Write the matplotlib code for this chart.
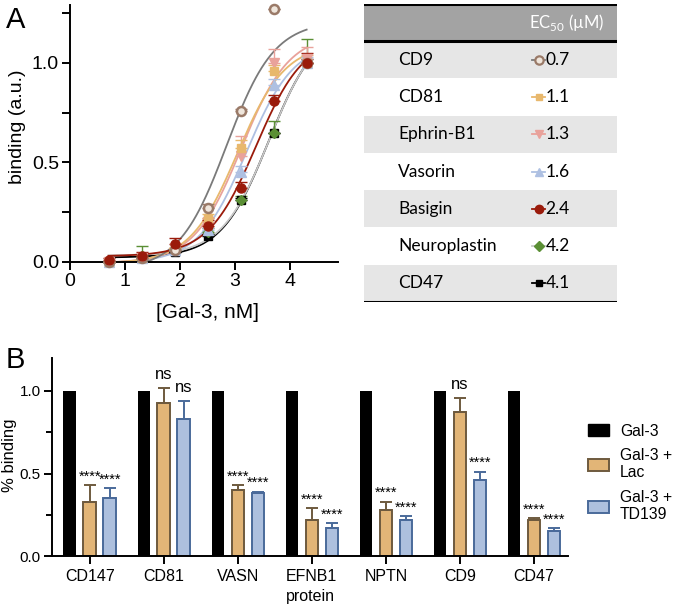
import numpy as np
import matplotlib
matplotlib.use("Agg")
import matplotlib.pyplot as plt
from matplotlib.patches import Rectangle, Patch
from matplotlib.ticker import MultipleLocator, FormatStrFormatter

plt.rcParams['font.family'] = ['Liberation Sans', 'DejaVu Sans']
plt.rcParams['mathtext.fontset'] = 'custom'
plt.rcParams['mathtext.rm'] = 'Lato'

# panel A: binding curves (x is log10 of [Gal-3] in nM)
log_conc = [0.7, 1.3, 1.9, 2.5, 3.1, 3.7, 4.3]
proteins = ['CD9', 'CD81', 'Ephrin-B1', 'Vasorin', 'Basigin', 'Neuroplastin', 'CD47']
ec50 = [0.7, 1.1, 1.3, 1.6, 2.4, 4.2, 4.1]  # uM
cd9 = [0.00, 0.02, 0.06, 0.27, 0.76, 1.27, 1.00]
cd81 = [0.00, 0.02, 0.07, 0.22, 0.57, 0.96, 1.00]
efnb1 = [0.00, 0.02, 0.07, 0.20, 0.53, 1.00, 1.02]
vasorin = [0.00, 0.02, 0.06, 0.16, 0.45, 0.89, 1.00]
basigin = [0.01, 0.03, 0.09, 0.18, 0.37, 0.81, 1.00]
nptn = [0.00, 0.03, 0.06, 0.15, 0.31, 0.65, 1.00]
cd47 = [0.00, 0.02, 0.05, 0.13, 0.31, 0.65, 1.00]
cd9_err = [0, 0, 0, 0.02, 0.01, 0, 0]
cd81_err = [0, 0, 0, 0.02, 0.04, 0.03, 0.04]
efnb1_err = [0, 0, 0, 0.02, 0.10, 0.07, 0.06]
vasorin_err = [0, 0, 0, 0.01, 0.03, 0.03, 0.03]
basigin_err = [0.01, 0.02, 0.03, 0.03, 0.03, 0.03, 0.05]
nptn_err = [0, 0.05, 0.01, 0.02, 0.02, 0.06, 0.12]
cd47_err = [0, 0, 0, 0.01, 0.01, 0, 0.02]

# panel B: inhibition bars
categories = ['CD147', 'CD81', 'VASN', 'EFNB1', 'NPTN', 'CD9', 'CD47']
gal3 = [1, 1, 1, 1, 1, 1, 1]
lac = [0.33, 0.93, 0.40, 0.22, 0.28, 0.87, 0.22]
lac_err = [0.10, 0.09, 0.03, 0.07, 0.05, 0.09, 0.01]
td139 = [0.35, 0.83, 0.38, 0.17, 0.22, 0.46, 0.15]
td139_err = [0.06, 0.11, 0.01, 0.03, 0.02, 0.05, 0.02]
lac_sig = ['****', 'ns', '****', '****', '****', 'ns', '****']
td139_sig = ['****', 'ns', '****', '****', '****', '****', '****']


def fit_curve(x, y, mid):
    # log(agonist) vs response, standard slope: least squares for bottom/top
    x = np.asarray(x, float)
    y = np.asarray(y, float)
    v = 1 / (1 + 10 ** (mid - x))
    A = np.column_stack([1 - v, v])
    (bot, top), *_ = np.linalg.lstsq(A, y, rcond=None)
    return bot, top


# values, err, EC50 row, marker, face, edge, curve colour (drawing order)
series = [
    (cd47, cd47_err, 6, 's', 'black', 'black', 'black'),
    (nptn, nptn_err, 5, 'D', '#5b8f35', '#5b8f35', '#c8c8c8'),
    (vasorin, vasorin_err, 3, '^', '#aec0e2', '#aec0e2', '#aec0e2'),
    (efnb1, efnb1_err, 2, 'v', '#e9a29b', '#e9a29b', '#e9a29b'),
    (cd81, cd81_err, 1, 's', '#e8b86d', '#e8b86d', '#e8b86d'),
    (cd9, cd9_err, 0, 'o', '#efe6dc', '#9a7a68', '#7a7a7a'),
    (basigin, basigin_err, 4, 'o', '#9a1b0b', '#9a1b0b', '#9a1b0b'),
]

fig = plt.figure(figsize=(6.77, 6.06), dpi=100)

axA = fig.add_axes([70 / 677, 1 - 262 / 606, 268 / 677, 257 / 606])
xs = np.linspace(min(log_conc), max(log_conc), 200)
for vals, err, row, mk, fc, ec, lc in series:
    mid = np.log10(ec50[row] * 1000)
    b, t = fit_curve(log_conc, vals, mid)
    axA.plot(xs, b + (t - b) / (1 + 10 ** (mid - xs)), color=lc, lw=1.3, zorder=2)
for vals, err, row, mk, fc, ec, lc in series:
    axA.errorbar(log_conc, vals, yerr=[np.zeros(len(err)), err], fmt='none',
                 ecolor=ec, elinewidth=1, capsize=4, zorder=3, clip_on=False)
    ms = 5.5 if mk in 'sD' else 6.5
    axA.plot(log_conc, vals, mk, ms=ms, mfc=fc, mec=ec, mew=1.8 if fc != ec else 1,
             zorder=4, clip_on=False)

axA.set_xlim(0, 4.87)
axA.set_ylim(0, 1.29)
axA.set_xticks([0, 1, 2, 3, 4])
axA.yaxis.set_major_locator(MultipleLocator(0.5))
axA.yaxis.set_minor_locator(MultipleLocator(0.25))
axA.yaxis.set_major_formatter(FormatStrFormatter('%.1f'))
for s in ['top', 'right']:
    axA.spines[s].set_visible(False)
for s in ['left', 'bottom']:
    axA.spines[s].set_linewidth(1.4)
axA.tick_params(which='both', width=1.4, length=6, labelsize=14, pad=2)
fig.text(208 / 677, 1 - 313 / 606, '[Gal-3, nM]', fontsize=15, ha='center', va='center')
fig.text(18 / 677, 1 - 127 / 606, 'binding (a.u.)', fontsize=14, rotation=90,
         ha='center', va='center')
fig.text(6 / 677, 1 - 28 / 606, 'A', fontsize=21)

# EC50 table
axT = fig.add_axes([364 / 677, 1 - 302 / 606, 253 / 677, 298 / 606])
axT.set_xlim(0, 1)
axT.set_ylim(8, 0)
axT.axis('off')
axT.add_patch(Rectangle((0, 0), 1, 1, color='#a3a3a3', lw=0))
axT.text(0.8, 0.5, r'EC$_{50}$ (µM)', color='white', ha='center', va='center',
         fontsize=12, family='Lato')
for vals, err, row, mk, fc, ec, lc in series:
    y = row + 1.5
    if row % 2 == 0:
        axT.add_patch(Rectangle((0, row + 1), 1, 1, color='#e6e6e6', lw=0, zorder=0))
    axT.text(0.134, y, proteins[row], ha='left', va='center', fontsize=12.5, family='Lato')
    axT.plot([0.664, 0.715], [y, y], color=lc, lw=1.3)
    ms = 5 if mk in 'sD' else 6
    axT.plot([0.692], [y], mk, ms=ms, mfc=fc, mec=ec, mew=1.6 if fc != ec else 1)
    axT.text(0.718, y, f'{ec50[row]:.1f}', ha='left', va='center', fontsize=12.5, family='Lato')
for yl in [0, 1, 8]:
    axT.axhline(yl, color='black', lw=2.2)

# panel B
axB = fig.add_axes([52 / 677, 1 - 556 / 606, 516 / 677, 198 / 606])
pos = np.arange(len(categories))
off, bw = 0.27, 0.17
axB.bar(pos - off, gal3, bw, color='black', zorder=2)
axB.bar(pos, lac, bw, color='#e2b577', edgecolor='#6e5a3e', lw=1.4,
        yerr=[np.zeros(len(lac_err)), lac_err],
        error_kw=dict(ecolor='#6e5a3e', elinewidth=1.4, capsize=4, capthick=1.4), zorder=2)
axB.bar(pos + off, td139, bw, color='#adc0de', edgecolor='#4a6a9a', lw=1.4,
        yerr=[np.zeros(len(td139_err)), td139_err],
        error_kw=dict(ecolor='#4a6a9a', elinewidth=1.4, capsize=4, capthick=1.4), zorder=2)
for i in range(len(categories)):
    for xo, v, e, lab in [(0, lac[i], lac_err[i], lac_sig[i]),
                          (off, td139[i], td139_err[i], td139_sig[i])]:
        if lab == 'ns':
            axB.text(pos[i] + xo, v + e + 0.035, lab, ha='center', va='bottom', fontsize=12)
        else:
            axB.text(pos[i] + xo, v + e + 0.01, lab, ha='center', va='bottom', fontsize=10.5)

axB.set_xlim(-0.51, 6.46)
axB.set_ylim(0, 1.2)
axB.set_xticks(pos)
axB.set_xticklabels(categories)
axB.yaxis.set_major_locator(MultipleLocator(0.5))
axB.yaxis.set_minor_locator(MultipleLocator(0.25))
axB.yaxis.set_major_formatter(FormatStrFormatter('%.1f'))
for s in ['top', 'right']:
    axB.spines[s].set_visible(False)
for s in ['left', 'bottom']:
    axB.spines[s].set_linewidth(1.4)
axB.tick_params(which='both', width=1.4, labelsize=11.5)
axB.tick_params(axis='y', labelsize=11, pad=2)
axB.tick_params(which='major', length=6)
axB.tick_params(which='minor', length=4)
fig.text(310 / 677, 1 - 597 / 606, 'protein', fontsize=11.5, ha='center', va='center')
fig.text(10 / 677, 1 - 455 / 606, '% binding', fontsize=12, rotation=90,
         ha='center', va='center')
fig.text(6 / 677, 1 - 368 / 606, 'B', fontsize=21)

handles = [Patch(facecolor='black', edgecolor='black'),
           Patch(facecolor='#e2b577', edgecolor='#6e5a3e', lw=1.4),
           Patch(facecolor='#adc0de', edgecolor='#4a6a9a', lw=1.4)]
fig.legend(handles, ['Gal-3', 'Gal-3 +\nLac', 'Gal-3 +\nTD139'], loc='center left',
           bbox_to_anchor=(583 / 677, 1 - 473 / 606), frameon=False, fontsize=11.3,
           handlelength=1.35, handleheight=0.8, handletextpad=0.7, labelspacing=0.6,
           borderaxespad=0, borderpad=0.3)

fig.savefig('out.png', dpi=100)
